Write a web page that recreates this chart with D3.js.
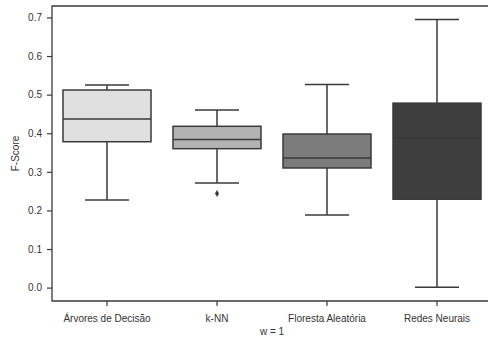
<!DOCTYPE html>
<html>
<head>
  <meta charset="UTF-8">
  <title>F-Score boxplot</title>
  <script src="https://d3js.org/d3.v7.min.js"></script>
  <style>
    body {
      margin: 0;
      padding: 0;
      background: #fff;
    }
    svg {
      display: block;
    }
    text {
      font-family: "Liberation Sans", Arial, sans-serif;
      font-size: 10px;
      fill: #333;
    }
  </style>
</head>
<body>

<script>
  // values
  const models = ["Árvores de Decisão", "k-NN", "Floresta Aleatória", "Redes Neurais"];
  const whiskerLow  = [0.227, 0.271, 0.188, 0.001];
  const q1          = [0.378, 0.360, 0.310, 0.229];
  const medians     = [0.437, 0.384, 0.336, 0.388];
  const q3          = [0.512, 0.418, 0.398, 0.478];
  const whiskerHigh = [0.525, 0.460, 0.526, 0.695];
  const outliers    = [[], [0.244], [], []];
  const fills = ["#e0e0e0", "#b3b3b3", "#7b7b7b", "#3e3e3e"];
  const yTicks = [0.0, 0.1, 0.2, 0.3, 0.4, 0.5, 0.6, 0.7];

  const width = 488;
  const height = 338;
  const margin = {top: 6, right: -4, bottom: 37, left: 52};

  const svg = d3.select("body")
    .append("svg")
    .attr("width", width)
    .attr("height", height);

  const x = d3.scaleBand()
    .domain(models)
    .range([margin.left, width - margin.right])
    .paddingInner(0.2)
    .paddingOuter(0.1);

  const y = d3.scaleLinear()
    .domain([-0.0347, 0.7297])
    .range([height - margin.bottom, margin.top]);

  const line = "#3a3a3a";

  const boxes = models.map((m, i) => ({
    name: m, lo: whiskerLow[i], q1: q1[i], med: medians[i], q3: q3[i], hi: whiskerHigh[i],
    out: outliers[i], fill: fills[i]
  }));

  const g = svg.selectAll("g.box")
    .data(boxes)
    .enter().append("g")
    .attr("class", "box");

  const cx = d => x(d.name) + x.bandwidth() / 2;
  const capW = x.bandwidth() / 2;

  // whiskers
  g.append("line")
    .attr("x1", cx).attr("x2", cx)
    .attr("y1", d => y(d.hi)).attr("y2", d => y(d.q3))
    .attr("stroke", line).attr("stroke-width", 1.5);
  g.append("line")
    .attr("x1", cx).attr("x2", cx)
    .attr("y1", d => y(d.q1)).attr("y2", d => y(d.lo))
    .attr("stroke", line).attr("stroke-width", 1.5);
  // caps
  g.append("line")
    .attr("x1", d => cx(d) - capW / 2).attr("x2", d => cx(d) + capW / 2)
    .attr("y1", d => y(d.hi)).attr("y2", d => y(d.hi))
    .attr("stroke", line).attr("stroke-width", 1.5);
  g.append("line")
    .attr("x1", d => cx(d) - capW / 2).attr("x2", d => cx(d) + capW / 2)
    .attr("y1", d => y(d.lo)).attr("y2", d => y(d.lo))
    .attr("stroke", line).attr("stroke-width", 1.5);

  // boxes
  g.append("rect")
    .attr("x", d => x(d.name))
    .attr("width", x.bandwidth())
    .attr("y", d => y(d.q3))
    .attr("height", d => y(d.q1) - y(d.q3))
    .attr("fill", d => d.fill)
    .attr("stroke", line)
    .attr("stroke-width", 1.5);

  // medians
  g.append("line")
    .attr("x1", d => x(d.name)).attr("x2", d => x(d.name) + x.bandwidth())
    .attr("y1", d => y(d.med)).attr("y2", d => y(d.med))
    .attr("stroke", line).attr("stroke-width", 1.5);

  // outliers
  g.selectAll("path.out")
    .data(d => d.out.map(v => ({v, c: cx(d)})))
    .enter().append("path")
    .attr("class", "out")
    .attr("d", d3.symbol().type(d3.symbolDiamond).size(14))
    .attr("transform", d => `translate(${d.c},${y(d.v)})`)
    .attr("fill", line);

  // axes
  const yAxis = svg.append("g")
    .attr("transform", `translate(${margin.left},0)`)
    .call(d3.axisLeft(y).tickValues(yTicks).tickFormat(d3.format(".1f")).tickSize(5).tickPadding(5));

  const xAxis = svg.append("g")
    .attr("transform", `translate(0,${height - margin.bottom})`)
    .call(d3.axisBottom(x).tickSize(5).tickPadding(9));

  [yAxis, xAxis].forEach(a => {
    a.select(".domain").remove();
    a.selectAll(".tick line").attr("stroke", line).attr("stroke-width", 1.2);
    a.selectAll(".tick text").attr("fill", "#333").style("font-size", "10px")
      .style("font-family", "'Liberation Sans', Arial, sans-serif");
  });

  // spines
  const x0 = margin.left, x1 = width - margin.right;
  const yTop = margin.top, yBot = height - margin.bottom;
  svg.append("path")
    .attr("d", `M${x0},${yTop}H${x1}V${yBot}H${x0}Z`)
    .attr("fill", "none")
    .attr("stroke", line)
    .attr("stroke-width", 1.3);

  svg.append("text")
    .attr("transform", `translate(19,${(yTop + yBot) / 2}) rotate(-90)`)
    .attr("text-anchor", "middle")
    .text("F-Score");

  svg.append("text")
    .attr("x", (x0 + x1) / 2)
    .attr("y", 335)
    .attr("text-anchor", "middle")
    .text("w = 1");
</script>

</body>
</html>
